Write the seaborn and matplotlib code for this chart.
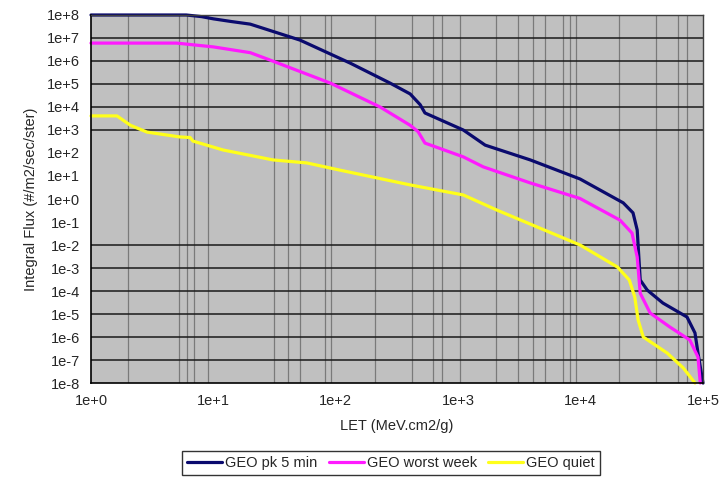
import numpy as np
import pandas as pd
import matplotlib
matplotlib.use("Agg")
import matplotlib.pyplot as plt
from matplotlib.ticker import NullFormatter
import seaborn as sns

# LET (MeV.cm2/g) vs integral flux (#/m2/sec/ster)
let_pk = [1, 6, 8, 10, 14, 20, 51, 131, 277, 405, 489, 535, 1100, 1500, 1660, 3880,
          9900, 22300, 26800, 29000, 30700, 35000, 47000, 74000, 86000, 91000, 100000]
flux_pk = [1e8, 1e8, 8.5e7, 6.8e7, 5.2e7, 4e7, 8.1e6, 8.1e5, 1.1e5, 3.7e4, 1.26e4,
           5.5e3, 1e3, 3.2e2, 2.2e2, 50, 7.4, 0.68, 0.25, 0.045, 3e-4, 1.1e-4, 3e-5,
           7.4e-6, 1.5e-6, 2e-7, 1e-8]

let_ww = [1, 5, 10, 20, 29, 90, 230, 405, 470, 535, 1100, 1600, 3880, 9900, 21000,
          26300, 29000, 30700, 37000, 53700, 78000, 91000, 95000]
flux_ww = [6e6, 6e6, 4.1e6, 2.3e6, 1.1e6, 1.1e5, 1e4, 1.6e3, 8.5e2, 2.7e2, 68, 25,
           5, 1.05, 0.12, 0.033, 3e-3, 8e-5, 1.1e-5, 2.7e-6, 7.4e-7, 1.35e-7, 1e-8]

let_q = [1, 1.63, 2.1, 2.87, 5.3, 6.45, 6.8, 12, 30.7, 58, 108, 405, 1100, 2070, 9900,
         20000, 25000, 27700, 29500, 32500, 51000, 69000, 86000]
flux_q = [4.1e3, 4.1e3, 1.6e3, 8.1e2, 5e2, 4.7e2, 3.3e2, 1.35e2, 50, 37, 18, 4.1, 1.5,
          0.33, 0.01, 1.1e-3, 3e-4, 5.5e-5, 5.5e-6, 1e-6, 2e-7, 4.5e-8, 1e-8]

series = ["GEO pk 5 min", "GEO worst week", "GEO quiet"]
colors = ["#0A0A6E", "#FF1AFF", "#FFFF1A"]

y_ticks = [10.0 ** e for e in range(8, -9, -1)]
y_labels = [f"1e{e:+d}" for e in range(8, -9, -1)]
x_ticks = [1, 10, 100, 1000, 10000, 100000]
x_labels = ["1e+0", "1e+1", "1e+2", "1e+3", "1e+4", "1e+5"]
hgrid = [1e7, 1e6, 1e5, 1e4, 1e3, 1e-2, 1e-3, 1e-4, 1e-5, 1e-6, 1e-7]
vgrid = [2.0, 5.2, 6.1, 7.0, 9.1, 31, 41, 51, 81, 91, 209, 420, 624, 739, 1038,
         2040, 3080, 4100, 5100, 7200, 8200, 9200, 20600, 41500, 62600, 73700]

df = pd.concat([
    pd.DataFrame({"LET": let_pk, "flux": flux_pk, "series": series[0]}),
    pd.DataFrame({"LET": let_ww, "flux": flux_ww, "series": series[1]}),
    pd.DataFrame({"LET": let_q, "flux": flux_q, "series": series[2]}),
])

sns.set_style("white")
plt.rcParams['font.family'] = ['Liberation Sans', 'DejaVu Sans']
plt.rcParams['font.size'] = 10.5

fig = plt.figure(figsize=(7.24, 4.79), dpi=100)
ax = fig.add_axes([0.1257, 0.2004, 0.8453, 0.7683])
ax.set_facecolor("#C0C0C0")

sns.lineplot(data=df, x="LET", y="flux", hue="series", palette=colors,
             hue_order=series, sort=False, estimator=None, linewidth=2.3, ax=ax)
for line in ax.lines:
    line.set_clip_on(False)
    line.set_solid_joinstyle("round")

ax.set_xscale("log")
ax.set_yscale("log")
ax.set_xlim(1, 1e5)
ax.set_ylim(1e-8, 1e8)

ax.set_yticks(y_ticks)
ax.set_yticklabels(y_labels)
ax.set_xticks(x_ticks)
ax.set_xticklabels(x_labels)
ax.set_xticks(vgrid, minor=True)
ax.xaxis.set_minor_formatter(NullFormatter())
ax.set_yticks([], minor=True)
ax.tick_params(axis="both", which="major", direction="out", length=5, width=1,
               color="black", labelsize=10.5, pad=3)
ax.tick_params(axis="x", which="minor", length=0)

for v in vgrid:
    ax.axvline(v, color="#7A7A7A", lw=0.9, zorder=0.5)
for h in hgrid:
    ax.axhline(h, color="#1A1A1A", lw=1.1, zorder=0.6)

for s in ["left", "bottom"]:
    ax.spines[s].set_color("black")
    ax.spines[s].set_linewidth(1.2)
for s in ["top", "right"]:
    ax.spines[s].set_color("#404040")
    ax.spines[s].set_linewidth(1.0)

ax.set_xlabel("LET (MeV.cm2/g)", fontsize=10.5, labelpad=8)
ax.set_ylabel("Integral Flux (#/m2/sec/ster)", fontsize=10.5, labelpad=6)

handles, labels = ax.get_legend_handles_labels()
leg = ax.legend(handles, labels, loc="upper center", bbox_to_anchor=(0.49, -0.165),
                ncol=3, frameon=True, fancybox=False, edgecolor="black",
                handlelength=2.4, handletextpad=0.2, columnspacing=0.8,
                borderpad=0.35, fontsize=10.5)
leg.get_frame().set_linewidth(1.0)

plt.savefig("out.png", dpi=100)
